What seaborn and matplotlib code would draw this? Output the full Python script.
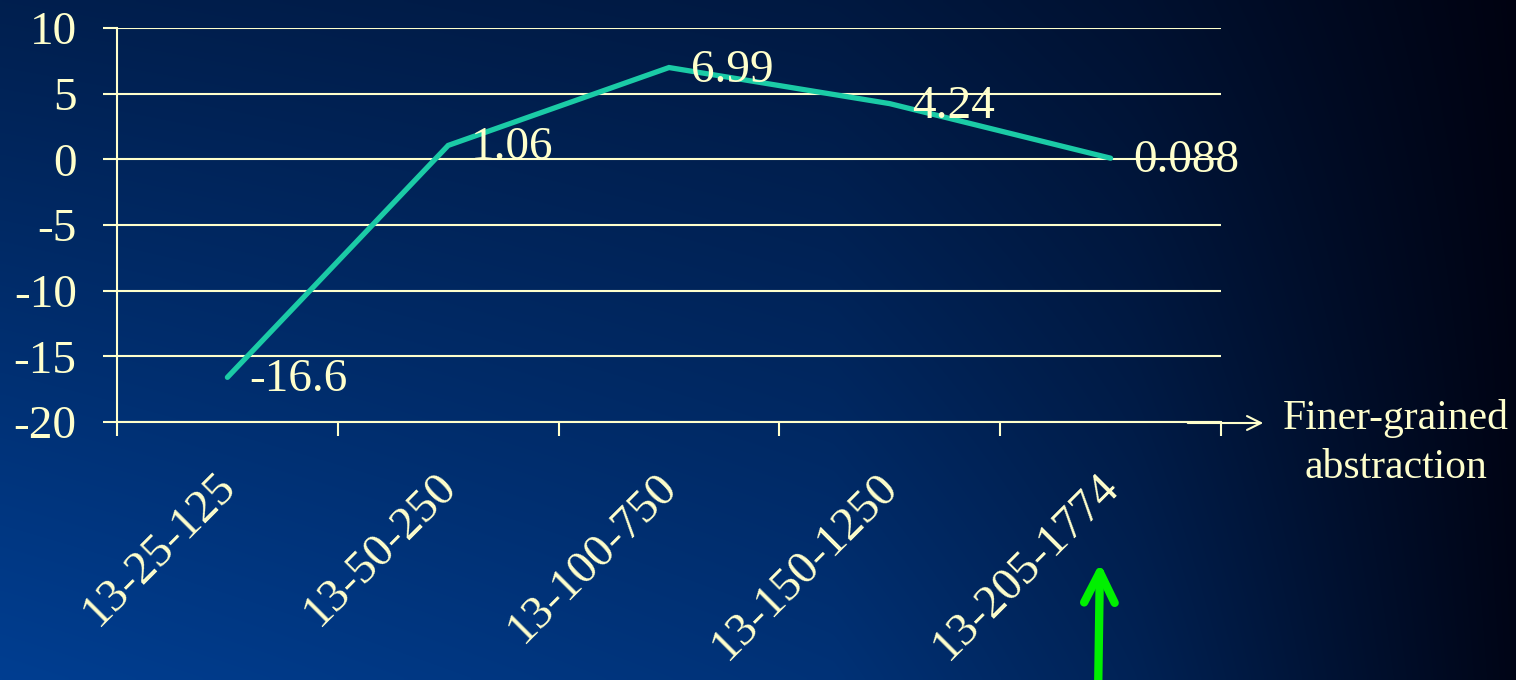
import numpy as np
import matplotlib
matplotlib.use("Agg")
import matplotlib.pyplot as plt
import seaborn as sns
import pandas as pd

# ---- data ----
categories = ["13-25-125", "13-50-250", "13-100-750", "13-150-1250", "13-205-1774"]
values = [-16.6, 1.06, 6.99, 4.24, 0.088]
value_labels = ["-16.6", "1.06", "6.99", "4.24", "0.088"]
y_ticks = [-20, -15, -10, -5, 0, 5, 10]
axis_note = "Finer-grained\nabstraction"

sns.set_theme(style="white")
plt.rcParams["font.family"] = ["Liberation Serif", "DejaVu Serif"]

CREAM = "#FFFFCC"
TEAL = "#1BCBA6"
W, H = 1516, 680
fig = plt.figure(figsize=(W / 100, H / 100), dpi=100)

# background gradient
bg = fig.add_axes([0, 0, 1, 1])
bg.axis("off")
bg.set_zorder(-10)
xs = np.linspace(0, 1, W // 4)
ys = np.linspace(0, 1, H // 4)
X, Y = np.meshgrid(xs, ys)
hf = np.interp(X, [0, 0.55, 0.75, 0.88, 1.0], [1, 0.8, 0.55, 0.3, 0.08])
g = (1 - 0.5 * (1 - Y)) * hf
C = np.array([0, 62, 145]) / 255
K = np.array([0, 0, 12]) / 255
img = K + (C - K) * g[..., None]
bg.imshow(img, extent=[0, 1, 0, 1], aspect="auto", origin="upper", interpolation="bilinear")
bg.set_xlim(0, 1)
bg.set_ylim(0, 1)

ax = fig.add_axes([117 / W, 1 - 422 / H, (1221 - 117) / W, (422 - 28) / H])
ax.patch.set_alpha(0)

df = pd.DataFrame({"config": categories, "gain": values})
sns.lineplot(data=df, x="config", y="gain", ax=ax, color=TEAL, lw=3.8,
             sort=False, solid_capstyle="round", solid_joinstyle="miter")

ax.set_xlim(-0.5, 4.5)
ax.set_ylim(-20, 10)
ax.set_yticks(y_ticks)
ax.set_yticklabels([str(t) for t in y_ticks])
# label ticks nudged slightly right so the rotated text ends at the category centre
ax.set_xticks(np.arange(len(categories)) + 0.075)
ax.set_xticklabels(categories, rotation=45, ha="right", fontsize=34, color=CREAM)
ax.set_xticks(np.arange(-0.5, len(categories), 1), minor=True)
ax.set_xlabel("")
ax.set_ylabel("")

ax.yaxis.grid(True, color=CREAM, lw=1.5)
ax.xaxis.grid(False)
ax.set_axisbelow(True)
for s in ["top", "right"]:
    ax.spines[s].set_visible(False)
for s in ["left", "bottom"]:
    ax.spines[s].set_color(CREAM)
    ax.spines[s].set_linewidth(1.5)

ax.tick_params(axis="y", which="major", direction="out", length=10, width=1.5,
               color=CREAM, labelcolor=CREAM, labelsize=34, pad=19, left=True)
ax.tick_params(axis="x", which="major", length=0, pad=31, labelsize=34, labelcolor=CREAM)
ax.tick_params(axis="x", which="minor", direction="out", length=10, width=1.5,
               color=CREAM, bottom=True)

for i, (v, lbl) in enumerate(zip(values, value_labels)):
    ax.annotate(lbl, (i, v), xytext=(16, -2), textcoords="offset points",
                ha="left", va="center", fontsize=34, color=CREAM)

# axis direction arrow + note
ax.annotate("", xy=(1266 / W, 1 - 423 / H), xytext=(1185 / W, 1 - 423 / H),
            xycoords="figure fraction", textcoords="figure fraction",
            arrowprops=dict(arrowstyle="->,head_length=0.5,head_width=0.25",
                            color=CREAM, lw=1.5, mutation_scale=20))
fig.text(1396 / W, 1 - 443 / H, axis_note, ha="center", va="center",
         fontsize=30, color=CREAM, linespacing=1.35)

# green pointer arrow
ax.annotate("", xy=(1100 / W, 1 - 560 / H), xytext=(1098 / W, 1 - 700 / H),
            xycoords="figure fraction", textcoords="figure fraction",
            arrowprops=dict(arrowstyle="->,head_length=1.1,head_width=0.55",
                            color="#00F000", lw=6, mutation_scale=20,
                            capstyle="round", joinstyle="round"))

fig.savefig("out.png", dpi=100)
